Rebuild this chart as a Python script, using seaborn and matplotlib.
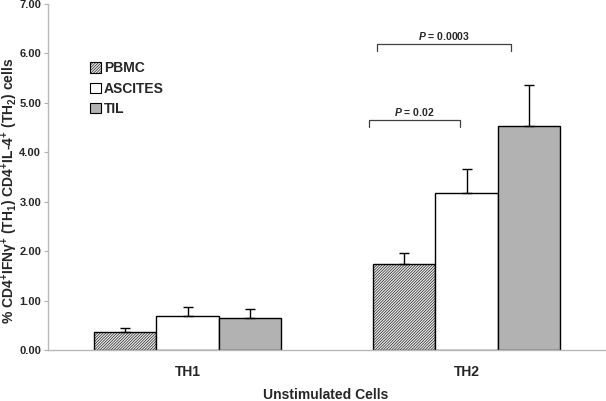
import matplotlib
matplotlib.use("Agg")
import matplotlib.pyplot as plt
import matplotlib.patches as mpatches
import seaborn as sns
import pandas as pd
import numpy as np

categories = ["TH1", "TH2"]
groups = ["PBMC", "ASCITES", "TIL"]
pbmc = [0.37, 1.74]
ascites = [0.69, 3.17]
til = [0.65, 4.53]
pbmc_err = [0.07, 0.22]
ascites_err = [0.17, 0.49]
til_err = [0.17, 0.83]
yticks = [0, 1, 2, 3, 4, 5, 6, 7]

sns.set_theme(style="white")
plt.rcParams['font.family'] = ['Liberation Sans', 'DejaVu Sans']
plt.rcParams['font.weight'] = 'bold'
plt.rcParams['mathtext.fontset'] = 'custom'
plt.rcParams['mathtext.rm'] = 'Liberation Sans:bold'
plt.rcParams['mathtext.it'] = 'Liberation Sans:italic:bold'
plt.rcParams['mathtext.bf'] = 'Liberation Sans:bold'
plt.rcParams['hatch.color'] = '#6e6e6e'
plt.rcParams['hatch.linewidth'] = 0.4

rows = []
for g, vals, errs in zip(groups, [pbmc, ascites, til], [pbmc_err, ascites_err, til_err]):
    for c, v, e in zip(categories, vals, errs):
        rows.append({"cat": c, "group": g, "value": v, "err": e})
df = pd.DataFrame(rows)

colors = {"PBMC": "#e6e6e6", "ASCITES": "#ffffff", "TIL": "#b2b2b2"}
HATCH = "/" * 12

fig = plt.figure(figsize=(6.06, 4.01), dpi=100)
ax = fig.add_axes([48/606, 1-350/401, 1-48/606, 346/401])

sns.barplot(data=df, x="cat", y="value", hue="group", order=categories,
            hue_order=groups, palette=colors, width=0.667, errorbar=None,
            edgecolor="black", linewidth=1.0, saturation=1, legend=False, ax=ax)

bars = [p for p in ax.patches if isinstance(p, mpatches.Rectangle) and p.get_width() > 0]
for i, g in enumerate(groups):
    sub = df[df.group == g]
    for j, c in enumerate(categories):
        p = bars[i*len(categories) + j]
        xc = p.get_x() + p.get_width()/2
        v = sub[sub.cat == c].value.values[0]
        e = sub[sub.cat == c].err.values[0]
        if g == "PBMC":
            p.set_hatch(HATCH)
        ax.errorbar(xc, v, yerr=[[0], [e]], fmt='none', ecolor='black',
                    elinewidth=1.0, capsize=3.5, capthick=1.0, zorder=1)

ax.set_xlim(-0.5, 1.5)
ax.set_ylim(0, 7)
ax.set_yticks(yticks)
ax.set_yticklabels([f"{t:.2f}" for t in yticks], fontsize=8, fontweight='bold')
ax.set_xticklabels(categories, fontsize=10, fontweight='bold')
ax.tick_params(axis='x', length=0, pad=11)
ax.tick_params(axis='y', length=3, color='#b0b0b0', width=0.8, pad=2, left=True)
for s in ["top", "right"]:
    ax.spines[s].set_visible(False)
for s in ["left", "bottom"]:
    ax.spines[s].set_color('#b8b8b8')
    ax.spines[s].set_linewidth(1.0)

ax.set_xlabel("Unstimulated Cells", fontsize=10, fontweight='bold')
ax.xaxis.set_label_coords((326-48)/558, -(395-350)/346)
ax.xaxis.label.set_va('center')
ax.set_ylabel("% CD4$^{+}$IFNγ$^{+}$ (TH$_{1}$) CD4$^{+}$IL-4$^{+}$ (TH$_{2}$) cells",
              fontsize=10, fontweight='bold')
ax.yaxis.set_label_coords(-(48-10)/558, (350-191)/346)
ax.yaxis.label.set_va('center')

def bracket(x0, x1, y, h, label):
    ax.plot([x0, x0, x1, x1], [y - h, y, y, y - h], color='#404040', lw=0.9, clip_on=False)
    ax.text((x0 + x1)/2, y + 0.04, label, ha='center', va='bottom',
            fontsize=7.5, fontweight='bold')

bracket(0.652, 0.975, 4.66, 0.15, "$P$ = 0.02")
bracket(0.680, 1.160, 6.19, 0.14, "$P$ = 0.0003")

handles = [mpatches.Patch(facecolor=colors[g], edgecolor='black', linewidth=0.8,
                          hatch=(HATCH if g == "PBMC" else None), label=g) for g in groups]
leg = ax.legend(handles=handles, loc='upper left', bbox_to_anchor=(0.075, 0.834),
                frameon=False, fontsize=10, handlelength=0.8, handleheight=0.8,
                handletextpad=0.2, labelspacing=0.45, borderaxespad=0, borderpad=0)
for t in leg.get_texts():
    t.set_fontweight('bold')

fig.savefig("out.png", dpi=100)
